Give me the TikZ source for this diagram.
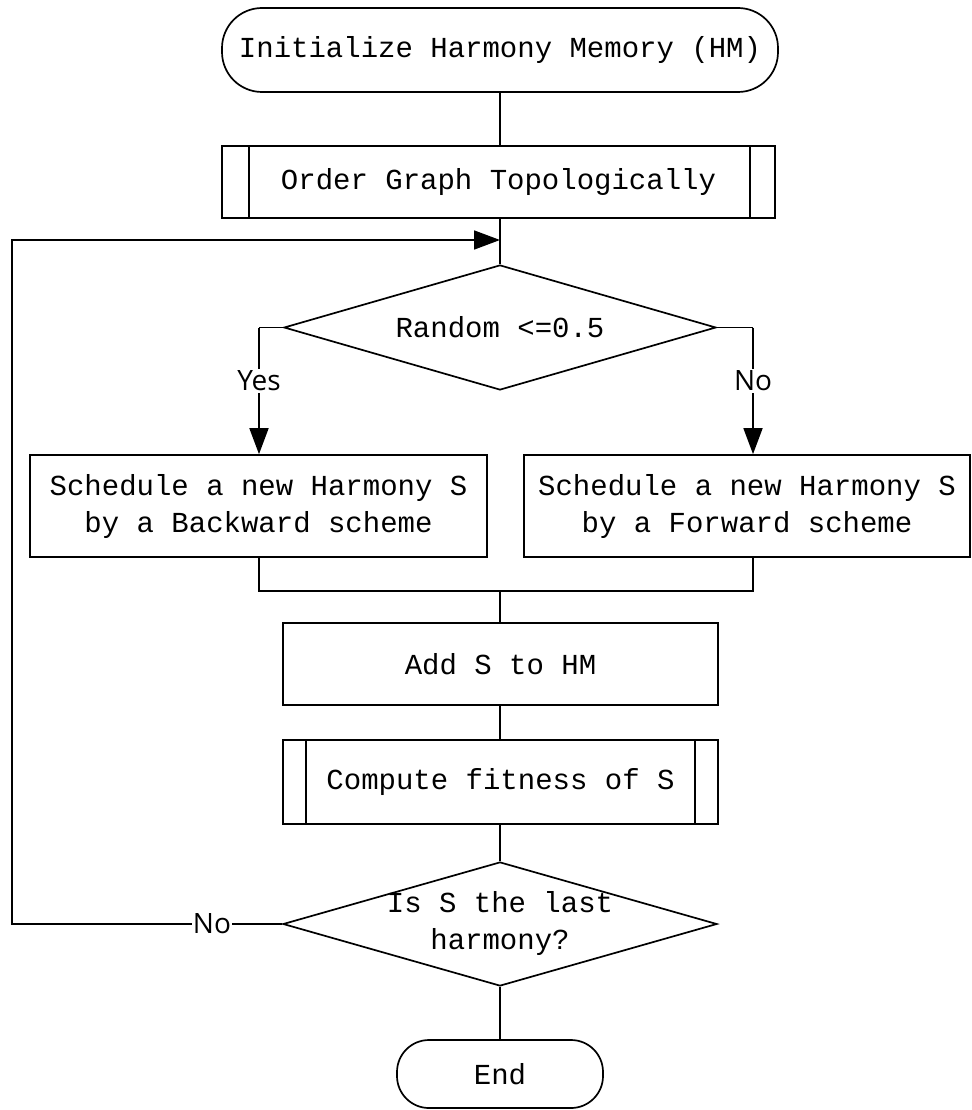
\documentclass[tikz,border=0pt]{standalone}
\usepackage{fontspec}
\setmainfont{Liberation Mono}
\newfontfamily\lblfont{Open Sans}
\usetikzlibrary{shapes.geometric,arrows.meta}
\begin{document}
\begin{tikzpicture}[x=1pt,y=-1pt,
  every node/.style={font=\fontsize{29}{37}\selectfont},
  line/.style={line width=1.7pt},
  arr/.style={line width=1.7pt,-{Triangle[length=26pt,width=19pt]}},
  term/.style={draw,line width=1.7pt,rounded corners=40pt,inner sep=0pt},
  procbox/.style={draw,line width=1.7pt,rectangle,inner sep=0pt,align=center},
  diam/.style={draw,line width=1.7pt,diamond,inner sep=0pt},
  lbl/.style={fill=white,inner sep=2pt,font=\lblfont\fontsize{28}{32}\selectfont}]
\useasboundingbox (0,0) rectangle (971,1110);
% nodes
\node[term,minimum width=556pt,minimum height=84pt] (init) at (500,50) {Initialize Harmony Memory (HM)};
\node[procbox,minimum width=553pt,minimum height=72pt] (order) at (498.5,182) {Order Graph Topologically};
\draw[line] ([xshift=28pt]order.north west) -- ([xshift=28pt]order.south west);
\draw[line] ([xshift=-26pt]order.north east) -- ([xshift=-26pt]order.south east);
\node[diam,minimum width=432pt,minimum height=125pt] (d1) at (500,327.5) {};
\node (d1t) at (d1) {Random <=0.5};
\node[procbox,minimum width=457pt,minimum height=102pt] (back) at (258.5,506) {Schedule a new Harmony S\\by a Backward scheme};
\node[procbox,minimum width=446pt,minimum height=102pt] (fwd) at (747,506) {Schedule a new Harmony S\\by a Forward scheme};
\node[procbox,minimum width=435pt,minimum height=82pt] (add) at (500.5,664) {Add S to HM};
\node[procbox,minimum width=435pt,minimum height=84pt] (fit) at (500.5,782) {Compute fitness of S};
\draw[line] ([xshift=24pt]fit.north west) -- ([xshift=24pt]fit.south west);
\draw[line] ([xshift=-24pt]fit.north east) -- ([xshift=-24pt]fit.south east);
\node[diam,minimum width=434pt,minimum height=124pt] (d2) at (500,924) {};
\node[align=center] (d2t) at (500,923) {Is S the last\\harmony?};
\node[term,rounded corners=32pt,minimum width=206pt,minimum height=68pt] (end) at (500,1074) {End};
% coordinates
\coordinate (c1) at (500,240);
\coordinate (yl) at (259,327.5);
\coordinate (nr) at (753,327.5);
\coordinate (mL) at (259,591);
\coordinate (mR) at (753,591);
\coordinate (mC) at (500,591);
\coordinate (lpB) at (12,924);
\coordinate (lpT) at (12,240);
% connectors
\draw[line] (init.south) -- (init.south |- order.north);
\draw[line] (init.south |- order.south) -- (d1.north);
\draw[line] (d1.west) -- (yl);
\draw[arr] (yl) -- node[lbl,pos=0.42] (yes) {Yes} (back.north -| yl);
\draw[line] (d1.east) -- (nr);
\draw[arr] (nr) -- node[lbl,pos=0.42] (no1) {No} (fwd.north -| nr);
\draw[line] (back.south -| mL) -- (mL) -- (mR) -- (fwd.south -| mR);
\draw[line] (mC) -- (add.north -| mC);
\draw[line] (add.south -| mC) -- (fit.north -| mC);
\draw[line] (fit.south -| mC) -- (d2.north);
\draw[line] (d2.south) -- (end.north);
\draw[arr] (d2.west) -- node[lbl,pos=0.26,inner sep=1pt] (no2) {No} (lpB) -- (lpT) -- (c1);
\end{tikzpicture}
\end{document}
